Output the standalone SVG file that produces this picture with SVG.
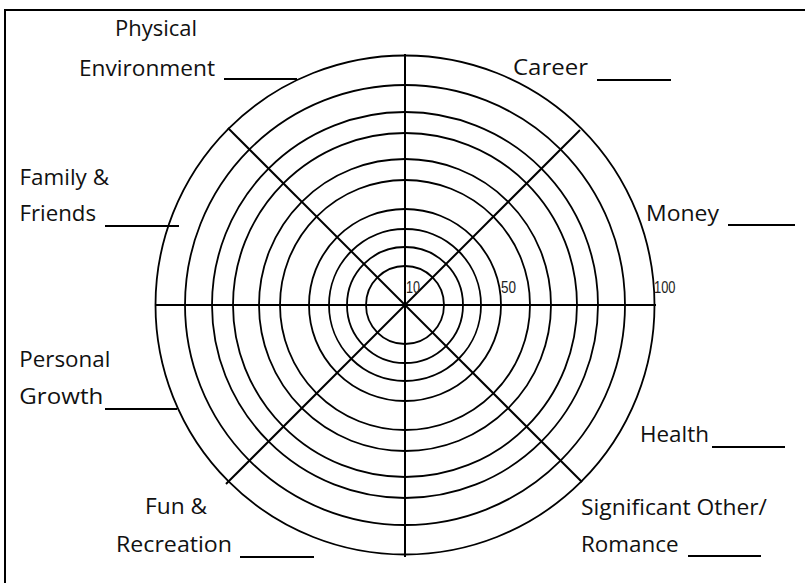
<svg xmlns="http://www.w3.org/2000/svg" width="805" height="583" viewBox="0 0 805 583">
<style>
.ln{stroke:#000;stroke-width:2;fill:none}
.ring{stroke:#000;stroke-width:1.8;fill:none}
.lbl{font-family:"Open Sans","DejaVu Sans",sans-serif;font-size:21px;fill:#111}
.num{font-family:"Liberation Sans",Arial,sans-serif;font-size:17px;fill:#222}
</style>
<rect width="805" height="583" fill="#fff"/>
<g id="frame">
<path class="ln" d="M5 583 V10 H805"/>
</g>
<g id="wheel">
<circle class="ring" cx="405" cy="305" r="39"/>
<circle class="ring" cx="405" cy="305" r="58"/>
<circle class="ring" cx="405" cy="305" r="76"/>
<circle class="ring" cx="405" cy="305" r="96"/>
<circle class="ring" cx="405" cy="305" r="125"/>
<circle class="ring" cx="405" cy="305" r="146"/>
<circle class="ring" cx="405" cy="305" r="172"/>
<circle class="ring" cx="405" cy="305" r="193"/>
<circle class="ring" cx="405" cy="305" r="220"/>
<circle class="ring" cx="405" cy="305" r="249.5"/>
</g>
<g id="spokes">
<line class="ln" x1="155" y1="305" x2="656" y2="305"/>
<line class="ln" x1="405" y1="54" x2="405" y2="557"/>
<line class="ln" x1="228" y1="128" x2="582" y2="482"/>
<line class="ln" x1="580" y1="130" x2="226" y2="484"/>
</g>
<g id="scale">
<text class="num" x="406" y="293" textLength="14" lengthAdjust="spacingAndGlyphs">10</text>
<text class="num" x="501" y="293" textLength="15" lengthAdjust="spacingAndGlyphs">50</text>
<text class="num" x="654" y="293" textLength="21.5" lengthAdjust="spacingAndGlyphs">100</text>
</g>
<g id="physical-environment">
<text class="lbl" x="115" y="36" textLength="82" lengthAdjust="spacingAndGlyphs">Physical</text>
<text class="lbl" x="79" y="76" textLength="136" lengthAdjust="spacingAndGlyphs">Environment</text>
<line class="ln" x1="224" y1="79" x2="297" y2="79"/>
</g>
<g id="career">
<text class="lbl" x="513" y="75" textLength="75" lengthAdjust="spacingAndGlyphs">Career</text>
<line class="ln" x1="597" y1="80" x2="671" y2="80"/>
</g>
<g id="family-friends">
<text class="lbl" x="19.5" y="185" textLength="89.5" lengthAdjust="spacingAndGlyphs">Family &amp;</text>
<text class="lbl" x="19.5" y="221" textLength="76.5" lengthAdjust="spacingAndGlyphs">Friends</text>
<line class="ln" x1="105" y1="226" x2="179" y2="226"/>
</g>
<g id="money">
<text class="lbl" x="646" y="221" textLength="73" lengthAdjust="spacingAndGlyphs">Money</text>
<line class="ln" x1="728" y1="225" x2="795" y2="225"/>
</g>
<g id="personal-growth">
<text class="lbl" x="19.3" y="367" textLength="91" lengthAdjust="spacingAndGlyphs">Personal</text>
<text class="lbl" x="19.3" y="404" textLength="84" lengthAdjust="spacingAndGlyphs">Growth</text>
<line class="ln" x1="105" y1="409" x2="177" y2="409"/>
</g>
<g id="health">
<text class="lbl" x="640" y="442" textLength="69" lengthAdjust="spacingAndGlyphs">Health</text>
<line class="ln" x1="712" y1="447" x2="785" y2="447"/>
</g>
<g id="fun-recreation">
<text class="lbl" x="145" y="514" textLength="62" lengthAdjust="spacingAndGlyphs">Fun &amp;</text>
<text class="lbl" x="116" y="552" textLength="116" lengthAdjust="spacingAndGlyphs">Recreation</text>
<line class="ln" x1="240" y1="557" x2="314" y2="557"/>
</g>
<g id="significant-other">
<text class="lbl" x="581" y="515" textLength="186" lengthAdjust="spacingAndGlyphs">Significant Other/</text>
<text class="lbl" x="581" y="552" textLength="97.6" lengthAdjust="spacingAndGlyphs">Romance</text>
<line class="ln" x1="688" y1="556" x2="761" y2="556"/>
</g>
</svg>
